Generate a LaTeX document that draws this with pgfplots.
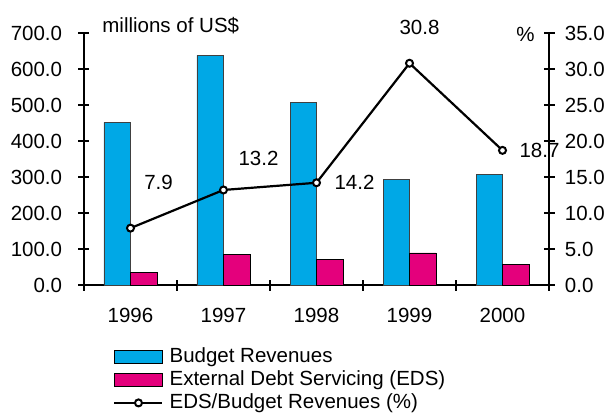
\documentclass[border=0pt]{standalone}
\usepackage{fontspec}
\setmainfont{Liberation Sans}
\usepackage{pgfplots}
\pgfplotsset{compat=1.18}
\definecolor{barblue}{RGB}{0,168,230}
\definecolor{barpink}{RGB}{228,0,124}
\begin{document}
\begin{tikzpicture}[font=\fontsize{10.25}{12}\selectfont]
\path[use as bounding box] (-42pt,-63.5pt) rectangle (262.5pt,142.5pt);
\begin{axis}[
  at={(0,0)}, anchor=south west,
  scale only axis, width=232.5pt, height=126pt,
  xmin=-0.5, xmax=4.5, ymin=0, ymax=700,
  axis x line*=bottom, axis y line*=left,
  axis line style={-, black, line width=0.6pt},
  /pgf/number format/assume math mode=true,
  ybar=0pt, bar width=13.25pt,
  xtick={0,1,2,3,4}, xticklabels={1996,1997,1998,1999,2000},
  major x tick style={draw=none},
  minor xtick={-0.5,0.5,1.5,2.5,3.5,4.5},
  minor tick length=5.5pt, major tick length=5.5pt, tick align=center,
  tick style={black, line width=0.6pt},
  xticklabel style={anchor=north, inner sep=0pt, yshift=-8.5pt},
  ytick={0,100,...,700},
  yticklabel style={/pgf/number format/fixed, /pgf/number format/fixed zerofill, /pgf/number format/precision=1, anchor=east, inner sep=0pt, xshift=-8pt},
  legend style={at={(rel axis cs:0,0)}, anchor=north west, xshift=14.5pt, yshift=-30.5pt,
    draw=none, fill=none, inner sep=0pt, row sep=1pt, column sep=3pt,
    nodes={inner sep=0pt, text height=8pt, text depth=2.5pt}},
  legend cell align=left,
]
\addplot[fill=barblue, draw=black!75, line width=0.4pt,
  legend image code/.code={\draw[fill=barblue, draw=black, line width=0.4pt] (0pt,-3.25pt) rectangle (24pt,3.25pt);}]
  coordinates {(0,452) (1,638) (2,507) (3,292) (4,307)};
\addlegendentry{Budget Revenues}
\addplot[fill=barpink, draw=black, line width=0.4pt,
  legend image code/.code={\draw[fill=barpink, draw=black, line width=0.4pt] (0pt,-3.25pt) rectangle (24pt,3.25pt);}]
  coordinates {(0,35) (1,84) (2,72) (3,89) (4,57)};
\addlegendentry{External Debt Servicing (EDS)}
\addlegendimage{legend image code/.code={\draw[black, line width=1.1pt] (0pt,0pt) -- (24pt,0pt); \draw[black, fill=white, line width=1pt] (12pt,0pt) circle (1.75pt);}}
\addlegendentry{EDS/Budget Revenues (\%)}
\end{axis}
\begin{axis}[
  at={(0,0)}, anchor=south west,
  scale only axis, width=232.5pt, height=126pt,
  xmin=-0.5, xmax=4.5, ymin=0, ymax=35,
  hide x axis, axis y line*=right,
  axis line style={-, black, line width=0.6pt},
  /pgf/number format/assume math mode=true,
  major tick length=5.5pt, tick align=center,
  tick style={black, line width=0.6pt},
  ytick={0,5,...,35},
  yticklabel style={/pgf/number format/fixed, /pgf/number format/fixed zerofill, /pgf/number format/precision=1, anchor=west, inner sep=0pt, xshift=5pt},
  clip=false,
]
\addplot[black, line width=1.1pt, mark=*, mark size=1.75pt, mark options={fill=white, line width=1pt}]
  coordinates {(0,7.9) (1,13.2) (2,14.2) (3,30.8) (4,18.7)};
\node at (axis cs:0,7.9) [xshift=14pt, yshift=23pt] {7.9};
\node at (axis cs:1,13.2) [xshift=17.5pt, yshift=16pt] {13.2};
\node at (axis cs:2,14.2) [xshift=19pt] {14.2};
\node at (axis cs:3,30.8) [xshift=5pt, yshift=18pt] {30.8};
\node at (axis cs:4,18.7) [xshift=18.5pt] {18.7};
\node[anchor=east, inner sep=0pt] at (rel axis cs:1,1) [xshift=-7pt, yshift=-0.5pt] {\%};
\node[anchor=west, inner sep=0pt] at (rel axis cs:0,1) [xshift=9pt, yshift=3.5pt] {millions of US\$};
\end{axis}
\end{tikzpicture}
\end{document}
